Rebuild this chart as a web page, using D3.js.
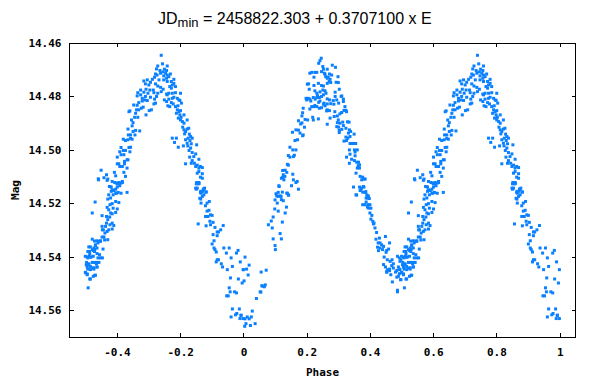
<!DOCTYPE html>
<html>
<head>
<meta charset="utf-8">
<script src="https://cdn.jsdelivr.net/npm/d3@7"></script>
<style>
  body { margin: 0; background: #fff; }
  .tick text { font-family: "DejaVu Sans Mono", monospace; font-weight: bold; font-size: 11px; fill: #000; }
</style>
</head>
<body>
<svg></svg>
<script>
// observations folded on the period, phase 0..1, [phase, mag]
// (points with phase >= 0.5 are also plotted at phase - 1)
let primaryMin = [
  [0.938,14.5367],[0.955,14.5367],[0.946,14.5386],[0.961,14.5404],[0.978,14.5386],[0.983,14.5376],
  [0.990,14.5419],[0.999,14.5448],[0.949,14.5448],[0.965,14.5436],[0.959,14.5479],[0.984,14.5483],
  [0.996,14.5498],[0.955,14.5516],[0.958,14.5531],[0.972,14.5531],[0.978,14.5535],[0.947,14.5546],
  [0.952,14.5546],[0.965,14.5595],[0.987,14.5595],[0.961,14.5625],[0.975,14.5617],[0.979,14.5612],
  [0.993,14.5618],[0.989,14.5631],[0.999,14.5631],[0.992,14.5620],
  [0.005,14.5401],[0.000,14.5448],[0.010,14.5446],[0.018,14.5431],[0.015,14.5468],[0.002,14.5490],
  [0.005,14.5632],[0.012,14.5625],[0.018,14.5632],[0.025,14.5625],[0.008,14.5650],[0.004,14.5660],
  [0.022,14.5657],[0.037,14.5650],[0.028,14.5603],[0.041,14.5556],[0.055,14.5532],[0.061,14.5510],
  [0.069,14.5505],[0.056,14.5457],[0.072,14.5450],[0.053,14.5531],[0.058,14.5508],[0.066,14.5512]
]

let risingToMaxI = [
  [0.079,14.5280],[0.091,14.5292],[0.094,14.5251],[0.088,14.5266],[0.100,14.5358],[0.101,14.5373],
  [0.094,14.5333],[0.120,14.5333],[0.116,14.5313],[0.123,14.5270],[0.110,14.5229],[0.107,14.5199],
  [0.099,14.5221],[0.105,14.5172],[0.110,14.5159],[0.116,14.5172],[0.123,14.5158],[0.126,14.5190],
  [0.120,14.5186],[0.136,14.5214],[0.132,14.5236],[0.139,14.5162],[0.142,14.5169],[0.112,14.5134],
  [0.128,14.5112],[0.152,14.5134],[0.158,14.5112],[0.166,14.5122],[0.174,14.5147],
  [0.100,14.5187],[0.110,14.5174],[0.103,14.5164],[0.119,14.5174],[0.137,14.5162],[0.143,14.5169],
  [0.113,14.5137],[0.170,14.5118],[0.124,14.5103],[0.131,14.5099],[0.120,14.5106],[0.126,14.5093],
  [0.137,14.5084],[0.156,14.5091],[0.139,14.5054],[0.142,14.5057],[0.124,14.5077],[0.132,14.5076],
  [0.142,14.5021],[0.147,14.5027],[0.158,14.5025],[0.161,14.5020],[0.147,14.4990],[0.156,14.5000],
  [0.166,14.5000],[0.163,14.4965],[0.171,14.4962],[0.187,14.4947],[0.189,14.4944],[0.179,14.4937],
  [0.174,14.4926],[0.166,14.4925],[0.155,14.4934],[0.181,14.4903],[0.185,14.4899],[0.193,14.4915],
  [0.174,14.4891],[0.187,14.4861],[0.185,14.4873],[0.195,14.4886],[0.203,14.4888],[0.189,14.4844],
  [0.210,14.4847],[0.221,14.4888],[0.237,14.4884],[0.219,14.4878],[0.216,14.4838],[0.200,14.4813],
  [0.205,14.4807],[0.210,14.4810],[0.198,14.4807],[0.213,14.4817],[0.223,14.4838],[0.226,14.4834],
  [0.232,14.4838],[0.240,14.4844],[0.247,14.4842],[0.232,14.4804],[0.240,14.4804],[0.242,14.4817],
  [0.238,14.4822],[0.247,14.4800],[0.200,14.4808],[0.227,14.4810],[0.221,14.4804]
]

let maxI = [
  [0.246,14.4657],[0.242,14.4666],[0.238,14.4676],[0.251,14.4688],[0.253,14.4698],[0.265,14.4698],
  [0.281,14.4683],[0.291,14.4691],[0.247,14.4707],[0.256,14.4713],[0.258,14.4717],[0.210,14.4713],
  [0.216,14.4710],[0.226,14.4710],[0.232,14.4710],[0.223,14.4728],[0.260,14.4726],[0.265,14.4732],
  [0.268,14.4728],[0.274,14.4736],[0.271,14.4744],[0.265,14.4751],[0.247,14.4759],[0.253,14.4761],
  [0.237,14.4751],[0.223,14.4759],[0.276,14.4748],[0.293,14.4747],[0.300,14.4748],[0.299,14.4726],
  [0.279,14.4720],[0.272,14.4716],[0.206,14.4753],[0.202,14.4754],[0.208,14.4773],[0.226,14.4779],
  [0.232,14.4788],[0.242,14.4783],[0.251,14.4776],[0.258,14.4779],[0.261,14.4788],[0.253,14.4794],
  [0.234,14.4797],[0.290,14.4784],[0.303,14.4773],[0.311,14.4798],[0.265,14.4809],[0.253,14.4829],
  [0.258,14.4835],[0.265,14.4850],[0.272,14.4853],[0.263,14.4854],[0.255,14.4825],[0.265,14.4904],
  [0.274,14.4881],[0.287,14.4875],[0.300,14.4888],[0.297,14.4873],[0.305,14.4865],[0.311,14.4860],
  [0.318,14.4852],[0.324,14.4852],[0.326,14.4857],[0.321,14.4838],[0.316,14.4810],[0.316,14.4819],
  [0.309,14.4800],[0.295,14.4813],[0.284,14.4815],[0.272,14.4813],[0.290,14.4800],[0.301,14.4825],
  [0.265,14.4828],[0.276,14.4827],[0.286,14.4829],[0.289,14.4857]
]

let fallingFromMaxI = [
  [0.305,14.4900],[0.314,14.4896],[0.329,14.4895],[0.334,14.4896],[0.297,14.4898],[0.295,14.4913],
  [0.301,14.4915],[0.303,14.4927],[0.311,14.4923],[0.316,14.4909],[0.324,14.4919],[0.335,14.4925],
  [0.339,14.4931],[0.332,14.4937],[0.350,14.4941],[0.324,14.4952],[0.330,14.4956],[0.337,14.4950],
  [0.303,14.4935],[0.318,14.4967],[0.326,14.4965],[0.337,14.4976],[0.342,14.4976],[0.348,14.4976],
  [0.355,14.4976],[0.335,14.5000],[0.351,14.5000],[0.360,14.5000],[0.353,14.5008],[0.337,14.5016],
  [0.326,14.5027],[0.342,14.5035],[0.353,14.5022],[0.351,14.5040],[0.335,14.5050],[0.358,14.5046],
  [0.364,14.5046],[0.367,14.5056],[0.363,14.5059],[0.360,14.5068],[0.367,14.5068],[0.356,14.5087],
  [0.369,14.5099],[0.377,14.5102],[0.374,14.5112],[0.381,14.5109],[0.385,14.5109],[0.348,14.5139],
  [0.367,14.5139],[0.374,14.5143],[0.381,14.5139],[0.369,14.5152],[0.377,14.5158],[0.385,14.5159],
  [0.390,14.5168],[0.395,14.5172],[0.393,14.5177],[0.388,14.5180],[0.358,14.5169],[0.398,14.5182],
  [0.356,14.5168],[0.371,14.5149],[0.379,14.5137],[0.387,14.5156],[0.392,14.5180],[0.377,14.5205],
  [0.385,14.5205],[0.395,14.5205],[0.400,14.5205],[0.388,14.5195],[0.392,14.5214],[0.396,14.5218],
  [0.403,14.5218],[0.400,14.5236],[0.406,14.5245],[0.403,14.5259],[0.409,14.5267],[0.411,14.5277],
  [0.416,14.5292],[0.413,14.5274],[0.421,14.5309],[0.419,14.5334],[0.430,14.5330],[0.449,14.5324]
]

let secondaryMin = [
  [0.426,14.5348],[0.432,14.5348],[0.437,14.5355],[0.443,14.5361],[0.424,14.5364],[0.432,14.5367],
  [0.427,14.5377],[0.440,14.5373],[0.453,14.5376],[0.459,14.5371],[0.462,14.5348],[0.445,14.5401],
  [0.451,14.5383],[0.455,14.5411],[0.464,14.5417],[0.470,14.5411],[0.474,14.5426],[0.443,14.5429],
  [0.449,14.5438],[0.456,14.5448],[0.462,14.5446],[0.469,14.5433],[0.453,14.5454],[0.462,14.5452],
  [0.474,14.5442],[0.485,14.5451],[0.481,14.5457],[0.466,14.5467],[0.453,14.5458],[0.487,14.5398],
  [0.493,14.5404],[0.500,14.5398],[0.506,14.5401],[0.512,14.5398],[0.518,14.5401],[0.525,14.5398],
  [0.495,14.5417],[0.503,14.5430],[0.511,14.5426],[0.522,14.5421],[0.529,14.5421],[0.535,14.5426],
  [0.516,14.5436],[0.527,14.5441],[0.490,14.5438],[0.493,14.5446],[0.508,14.5446],[0.516,14.5448],
  [0.500,14.5458],[0.506,14.5467],[0.493,14.5463],[0.485,14.5476],[0.490,14.5473],[0.497,14.5486],
  [0.471,14.5494],[0.487,14.5525],[0.487,14.5531],[0.509,14.5516],[0.516,14.5483],[0.525,14.5473],
  [0.532,14.5469],[0.537,14.5438],[0.543,14.5421],[0.548,14.5404],[0.554,14.5404],[0.545,14.5392],
  [0.537,14.5388],[0.529,14.5380],[0.522,14.5373],[0.513,14.5380],[0.516,14.5363],[0.527,14.5367],
  [0.532,14.5358],[0.540,14.5348],[0.548,14.5342],[0.537,14.5340],[0.529,14.5341],[0.522,14.5334],
  [0.553,14.5326],[0.522,14.5236],[0.531,14.5195],[0.553,14.5246],[0.542,14.5112],[0.553,14.5286],
  [0.554,14.5299],[0.498,14.5485],[0.514,14.5483],[0.530,14.5469],[0.506,14.5464],[0.501,14.5460],
  [0.522,14.5442],[0.537,14.5438],[0.527,14.5446],[0.495,14.5448],[0.506,14.5438],[0.511,14.5429],
  [0.536,14.5421],[0.504,14.5421],[0.498,14.5411],[0.508,14.5404],[0.516,14.5401],[0.540,14.5404],
  [0.514,14.5388],[0.508,14.5380],[0.525,14.5376],[0.530,14.5373],[0.537,14.5367],[0.511,14.5363],
  [0.532,14.5355],[0.550,14.5076],[0.541,14.5108],[0.559,14.5104]
]

let risingToMaxII = [
  [0.556,14.5371],[0.543,14.5342],[0.548,14.5340],[0.561,14.5337],[0.571,14.5336],[0.559,14.5326],
  [0.562,14.5311],[0.569,14.5305],[0.557,14.5299],[0.574,14.5299],[0.585,14.5296],[0.564,14.5286],
  [0.567,14.5274],[0.578,14.5280],[0.585,14.5274],[0.590,14.5283],[0.571,14.5261],[0.567,14.5249],
  [0.577,14.5251],[0.580,14.5236],[0.585,14.5239],[0.596,14.5234],[0.574,14.5224],[0.569,14.5215],
  [0.588,14.5218],[0.601,14.5221],[0.578,14.5205],[0.585,14.5201],[0.596,14.5193],[0.606,14.5197],
  [0.580,14.5180],[0.574,14.5168],[0.588,14.5168],[0.599,14.5162],[0.604,14.5159],[0.613,14.5162],
  [0.632,14.5159],[0.585,14.5149],[0.590,14.5152],[0.596,14.5147],[0.601,14.5139],[0.582,14.5139],
  [0.576,14.5137],[0.599,14.5124],[0.606,14.5127],[0.613,14.5124],[0.617,14.5118],[0.569,14.5114],
  [0.571,14.5184],[0.582,14.5155],[0.596,14.5162],[0.578,14.5137],[0.590,14.5152],[0.601,14.5127],
  [0.609,14.5134],[0.617,14.5122],[0.606,14.5122],[0.593,14.5122],[0.585,14.5118],[0.571,14.5109],
  [0.567,14.5093],[0.596,14.5097],[0.592,14.5084],[0.622,14.5084],[0.627,14.5099],[0.609,14.5062],
  [0.601,14.5052],[0.606,14.5052],[0.617,14.5062],[0.624,14.5052],[0.632,14.5068],[0.624,14.5043],
  [0.632,14.5037],[0.601,14.5027],[0.613,14.5018],[0.622,14.5018],[0.609,14.5007],[0.613,14.4991],
  [0.620,14.5002],[0.627,14.5002],[0.641,14.5007],[0.638,14.4991],[0.635,14.5037],[0.643,14.4990],
  [0.620,14.4960],[0.627,14.4965],[0.635,14.4962],[0.643,14.4957],[0.648,14.4960],[0.657,14.4944],
  [0.636,14.4944],[0.651,14.4931],[0.643,14.4944],[0.659,14.4927],[0.648,14.4910],[0.651,14.4898],
  [0.646,14.4888],[0.635,14.4922],[0.672,14.4929],[0.656,14.4878],[0.666,14.4878],[0.659,14.4863],
  [0.669,14.4850],[0.662,14.4850],[0.641,14.4854],[0.638,14.4857],[0.653,14.4832],[0.664,14.4833],
  [0.677,14.4844],[0.683,14.4840],[0.692,14.4869],[0.702,14.4853],[0.709,14.4850],[0.717,14.4828],
  [0.722,14.4825],[0.669,14.4823],[0.680,14.4817],[0.688,14.4813],[0.696,14.4815],[0.680,14.4807],
  [0.664,14.4798],[0.675,14.4794],[0.690,14.4800],[0.706,14.4803],[0.719,14.4810]
]

let maxII = [
  [0.685,14.4784],[0.698,14.4788],[0.704,14.4776],[0.715,14.4776],[0.717,14.4786],[0.692,14.4773],
  [0.675,14.4776],[0.666,14.4786],[0.690,14.4753],[0.685,14.4742],[0.696,14.4738],[0.712,14.4736],
  [0.719,14.4728],[0.722,14.4716],[0.727,14.4720],[0.733,14.4738],[0.706,14.4747],[0.701,14.4757],
  [0.722,14.4753],[0.729,14.4761],[0.738,14.4766],[0.746,14.4773],[0.740,14.4782],[0.729,14.4788],
  [0.725,14.4800],[0.738,14.4713],[0.748,14.4723],[0.754,14.4713],[0.746,14.4708],[0.759,14.4720],
  [0.764,14.4726],[0.757,14.4732],[0.748,14.4738],[0.759,14.4744],[0.772,14.4744],[0.775,14.4757],
  [0.780,14.4736],[0.767,14.4763],[0.740,14.4646],[0.744,14.4678],[0.759,14.4686],[0.729,14.4686],
  [0.725,14.4697],[0.736,14.4703],[0.750,14.4698],[0.757,14.4703],[0.769,14.4716],[0.785,14.4763],
  [0.780,14.4751],[0.772,14.4769],[0.764,14.4788],[0.775,14.4788],[0.785,14.4786],[0.757,14.4791],
  [0.759,14.4794],[0.750,14.4813],[0.757,14.4819],[0.764,14.4810],[0.772,14.4823],[0.775,14.4807],
  [0.780,14.4803],[0.791,14.4807],[0.796,14.4813],[0.801,14.4788],[0.799,14.4815],[0.804,14.4825],
  [0.778,14.4828],[0.785,14.4838],[0.793,14.4835],[0.767,14.4838],[0.761,14.4835]
]

let fallingFromMaxII = [
  [0.791,14.4850],[0.796,14.4857],[0.801,14.4853],[0.788,14.4863],[0.799,14.4869],[0.803,14.4878],
  [0.812,14.4869],[0.794,14.4881],[0.801,14.4888],[0.807,14.4894],[0.822,14.4888],[0.812,14.4900],
  [0.808,14.4915],[0.812,14.4925],[0.817,14.4931],[0.822,14.4922],[0.827,14.4919],[0.814,14.4940],
  [0.829,14.4941],[0.833,14.4950],[0.825,14.4956],[0.838,14.4956],[0.817,14.4962],[0.831,14.4965],
  [0.822,14.4975],[0.835,14.4977],[0.852,14.4981],[0.810,14.4985],[0.794,14.4990],[0.775,14.4956],
  [0.782,14.4972],[0.788,14.4956],[0.824,14.4985],[0.833,14.4993],[0.828,14.5002],[0.838,14.5010],
  [0.849,14.5015],[0.843,14.5025],[0.830,14.5027],[0.859,14.5035],[0.838,14.5040],[0.845,14.5050],
  [0.854,14.5057],[0.864,14.5062],[0.870,14.5066],[0.859,14.5068],[0.849,14.5062],[0.835,14.5050],
  [0.817,14.5052],[0.859,14.5081],[0.854,14.5087],[0.870,14.5089],[0.864,14.5102],[0.859,14.5122],
  [0.870,14.5106],[0.852,14.5122],[0.859,14.5127],[0.854,14.5143],[0.849,14.5143],[0.873,14.5147],
  [0.877,14.5143],[0.882,14.5157],[0.866,14.5162],[0.864,14.5159],[0.875,14.5168],[0.862,14.5181],
  [0.851,14.5127],[0.859,14.5125],[0.851,14.5147],[0.865,14.5155],[0.872,14.5155],[0.875,14.5147],
  [0.882,14.5158],[0.870,14.5174],[0.865,14.5184],[0.866,14.5199],[0.892,14.5193],[0.885,14.5199],
  [0.880,14.5209],[0.891,14.5226],[0.885,14.5229],[0.880,14.5249],[0.888,14.5249],[0.896,14.5243],
  [0.901,14.5245],[0.857,14.5277],[0.882,14.5284],[0.894,14.5267],[0.904,14.5271],[0.896,14.5280],
  [0.910,14.5290],[0.936,14.5283],[0.928,14.5299],[0.917,14.5307],[0.921,14.5307],[0.904,14.5317],
  [0.917,14.5321],[0.901,14.5352],[0.907,14.5340],[0.907,14.5367],[0.910,14.5373],[0.914,14.5382],
  [0.917,14.5411],[0.921,14.5411],[0.914,14.5419],[0.930,14.5426],[0.934,14.5438]
]

let xTicks = [-0.4, -0.2, 0, 0.2, 0.4, 0.6, 0.8, 1]
let yTicks = [14.46, 14.48, 14.50, 14.52, 14.54, 14.56]

let width = 609
let height = 388
let plotLeft = 69.5
let plotRight = 575.5
let plotTop = 43
let plotBottom = 337

let svg = d3.select('svg')
  .attr('width', width)
  .attr('height', height)

let xScale = d3.scaleLinear().domain([-0.55, 1.05]).range([plotLeft, plotRight])
let yScale = d3.scaleLinear().domain([14.46, 14.57]).range([plotTop, plotBottom])

let allPoints = [].concat(primaryMin, risingToMaxI, maxI, fallingFromMaxI,
                          secondaryMin, risingToMaxII, maxII, fallingFromMaxII)
let shown = allPoints.concat(allPoints.filter(p => p[0] >= 0.5).map(p => [p[0] - 1, p[1]]))

// title
let title = svg.append('text')
  .attr('x', 158)
  .attr('y', 24)
  .style('font-family', '"Liberation Sans", Arial, sans-serif')
  .style('font-size', '16px')
  .attr('fill', '#000')
title.append('tspan').text('JD')
title.append('tspan').attr('dy', 3).style('font-size', '13px').text('min')
title.append('tspan').attr('dy', -3).text(' = 2458822.303 + 0.3707100 x E')

// axes, ticks point inward on all four sides
svg.append('g')
  .attr('transform', `translate(0, ${plotBottom})`)
  .call(d3.axisBottom(xScale).tickValues(xTicks).tickSize(-4).tickPadding(11)
    .tickFormat(d => String(+d.toFixed(1))))
svg.append('g')
  .attr('transform', `translate(0, ${plotTop})`)
  .call(d3.axisTop(xScale).tickValues(xTicks).tickSize(-4).tickFormat(''))
svg.append('g')
  .attr('transform', `translate(${plotLeft}, 0)`)
  .call(d3.axisLeft(yScale).tickValues(yTicks).tickSize(-4).tickPadding(8)
    .tickFormat(d => d.toFixed(2)))
svg.append('g')
  .attr('transform', `translate(${plotRight}, 0)`)
  .call(d3.axisRight(yScale).tickValues(yTicks).tickSize(-4).tickFormat(''))

svg.selectAll('.domain').remove()
svg.selectAll('.tick line').attr('stroke', '#000').attr('shape-rendering', 'crispEdges')

svg.append('rect')
  .attr('x', plotLeft)
  .attr('y', plotTop)
  .attr('width', plotRight - plotLeft)
  .attr('height', plotBottom - plotTop)
  .attr('fill', 'none')
  .attr('stroke', '#000')
  .attr('shape-rendering', 'crispEdges')

// axis titles
svg.append('text')
  .attr('x', (plotLeft + plotRight) / 2)
  .attr('y', 376)
  .attr('text-anchor', 'middle')
  .style('font-family', '"DejaVu Sans Mono", monospace')
  .style('font-weight', 'bold')
  .style('font-size', '11px')
  .text('Phase')

svg.append('text')
  .attr('transform', `translate(19, ${(plotTop + plotBottom) / 2}) rotate(-90)`)
  .attr('text-anchor', 'middle')
  .style('font-family', '"DejaVu Sans Mono", monospace')
  .style('font-weight', 'bold')
  .style('font-size', '11px')
  .text('Mag')

// points
svg.append('g')
  .selectAll('rect')
  .data(shown)
  .enter()
  .append('rect')
  .attr('x', d => xScale(d[0]) - 1.5)
  .attr('y', d => yScale(d[1]) - 1.5)
  .attr('width', 3)
  .attr('height', 3)
  .attr('fill', '#0a80ff')
</script>
</body>
</html>
